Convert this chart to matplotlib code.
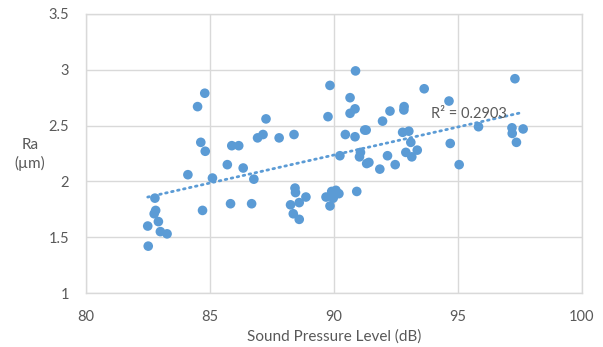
import numpy as np
import matplotlib

matplotlib.use("Agg")
import matplotlib.pyplot as plt

# sound pressure level (dB) and surface roughness Ra (um) per sample
spl = [
    82.51, 82.49, 82.78, 82.81, 82.75, 82.92, 83.00, 83.27, 84.11, 84.70,
    85.10, 85.70, 86.34, 86.77, 85.83, 86.68, 84.79, 84.50, 84.63, 84.81,
    85.88, 86.16, 87.26, 86.92, 87.14, 87.79, 88.39, 89.84, 89.76, 90.87,
    90.65, 90.85, 90.65, 92.26, 91.96, 90.46, 90.85, 91.24, 91.30, 90.24,
    91.07, 91.03, 91.41, 91.32, 92.16, 91.85, 92.47, 93.64, 94.64, 92.83,
    92.82, 92.77, 93.02, 93.10, 94.69, 95.83, 97.30, 97.18, 97.19, 97.63,
    97.36, 92.90, 93.36, 93.14, 95.05, 89.68, 89.91, 90.08, 90.20, 89.97,
    89.84, 90.92, 88.43, 88.45, 88.87, 88.25, 88.60, 88.36, 88.60,
]
ra = [
    1.42, 1.60, 1.85, 1.74, 1.71, 1.64, 1.55, 1.53, 2.06, 1.74,
    2.03, 2.15, 2.12, 2.02, 1.80, 1.80, 2.79, 2.67, 2.35, 2.27,
    2.32, 2.32, 2.56, 2.39, 2.42, 2.39, 2.42, 2.86, 2.58, 2.99,
    2.75, 2.65, 2.61, 2.63, 2.54, 2.42, 2.40, 2.46, 2.46, 2.23,
    2.26, 2.22, 2.17, 2.16, 2.23, 2.11, 2.15, 2.83, 2.72, 2.67,
    2.64, 2.44, 2.45, 2.35, 2.34, 2.49, 2.92, 2.48, 2.43, 2.47,
    2.35, 2.26, 2.28, 2.22, 2.15, 1.86, 1.91, 1.92, 1.89, 1.85,
    1.78, 1.91, 1.94, 1.90, 1.86, 1.79, 1.81, 1.71, 1.66,
]
r2_label = "R² = 0.2903"

x_ticks = [80, 85, 90, 95, 100]
y_ticks = [1, 1.5, 2, 2.5, 3, 3.5]

blue = "#5B9BD5"
grey_text = "#595959"
grid_col = "#d9d9d9"

plt.rcParams["font.family"] = ["Lato", "DejaVu Sans"]

fig = plt.figure(figsize=(6.03, 3.47), dpi=100)
ax = fig.add_axes([0.1426, 0.1556, 0.8224, 0.8041])

ax.scatter(spl, ra, s=48, color=blue, edgecolors="none", zorder=3)

# linear trendline over the data range
x = np.array(spl)
slope, intercept = np.polyfit(x, np.array(ra), 1)
xs = np.array([x.min(), x.max()])
ax.plot(xs, slope * xs + intercept, color=blue, lw=2, linestyle=(0, (0.6, 1.6)),
        dash_capstyle="round", zorder=2)
ax.text(93.9, 2.60, r2_label, fontsize=10.5, color=grey_text, va="center", ha="left", zorder=4)

ax.set_xlim(80, 100)
ax.set_ylim(1, 3.5)
ax.set_xticks(x_ticks)
ax.set_yticks(y_ticks)
ax.set_yticklabels(["1", "1.5", "2", "2.5", "3", "3.5"])
ax.tick_params(length=0, labelsize=10.5, labelcolor=grey_text, pad=12)
ax.grid(True, color=grid_col, lw=1)
ax.set_axisbelow(True)
for sp in ax.spines.values():
    sp.set_color(grid_col)
    sp.set_linewidth(1)

ax.set_xlabel("Sound Pressure Level (dB)", fontsize=11, color=grey_text, labelpad=4)
fig.text(0.05, 0.555, "Ra\n(µm)", fontsize=11, color=grey_text, ha="center", va="center",
         linespacing=1.3)

fig.savefig("out.png", dpi=100)
plt.close(fig)
